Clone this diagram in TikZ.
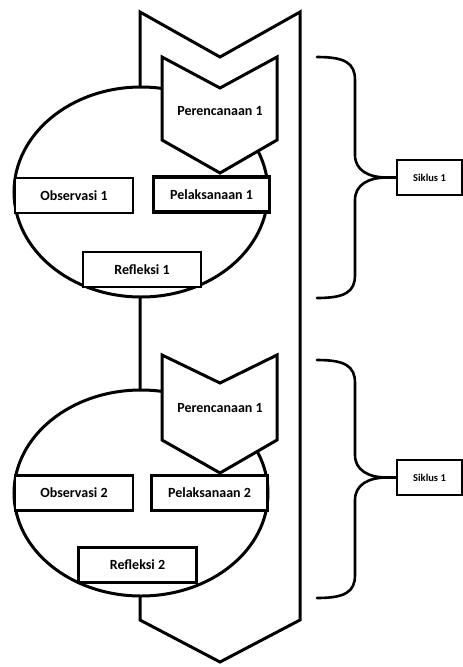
\documentclass[tikz,border=0pt]{standalone}
\usepackage{fontspec}
\setmainfont{Carlito}
\begin{document}
\begin{tikzpicture}[x=1pt,y=-1pt,
  outline/.style={draw=black,line width=3pt,fill=white,line join=miter},
  lbl/.style={font=\fontsize{14}{16}\selectfont\bfseries,inner sep=0pt},
  stagebox/.style={draw=black,line width=2.6pt,fill=white,minimum width=118pt,minimum height=35pt,inner sep=0pt,font=\fontsize{14}{16}\selectfont\bfseries},
  thickbox/.style={stagebox,line width=3.6pt,minimum width=116pt},
  siklusbox/.style={draw=black,line width=2.5pt,fill=white,minimum width=65pt,minimum height=35pt,inner sep=0pt,font=\fontsize{10.5}{12}\selectfont\bfseries},
  bracepath/.style={draw=black,line width=2.6pt,line cap=round}]
\useasboundingbox (0,0) rectangle (463,667);
% big chevron
\draw[outline] (140,12) -- (220,57) -- (300,12) -- (300,620) -- (220,662) -- (140,620) -- cycle;
% ellipses
\draw[outline] (141,192) ellipse [x radius=127, y radius=105];
\draw[outline] (141,493) ellipse [x radius=127, y radius=103];
% small chevrons
\draw[outline] (162,57) -- (220,88) -- (277,57) -- (277,140) -- (220,173) -- (162,140) -- cycle;
\node[lbl] (p1) at (220,111) {Perencanaan 1};
\draw[outline] (162,355) -- (220,383) -- (277,355) -- (277,440) -- (220,473) -- (162,440) -- cycle;
\node[lbl] (p2) at (220,408) {Perencanaan 1};
% boxes cycle 1
\node[stagebox] (o1) at (74,195.5) {Observasi 1};
\node[thickbox] (l1) at (211.5,194.5) {Pelaksanaan 1};
\node[stagebox] (r1) at (142,269.5) {Refleksi 1};
% boxes cycle 2
\node[stagebox] (o2) at (74,493) {Observasi 2};
\node[thickbox] (l2) at (209.5,493) {Pelaksanaan 2};
\node[stagebox] (r2) at (137.5,565) {Refleksi 2};
% siklus boxes
\node[siklusbox] (s1) at (429.5,177.5) {Siklus 1};
\node[siklusbox] (s2) at (429.5,477.5) {Siklus 1};
% braces
\coordinate (t1) at (387,177.5);
\draw[bracepath] (317,57) .. controls (345,57) and (355,63) .. (355,80) -- (355,155)
  .. controls (355,170) and (368,177.5) .. (t1)
  .. controls (368,177.5) and (355,185) .. (355,200) -- (355,275)
  .. controls (355,292) and (345,298) .. (317,298);
\draw[bracepath] (t1) -- (s1.west);
\coordinate (t2) at (387,477.5);
\draw[bracepath] (317,360) .. controls (345,360) and (355,366) .. (355,383) -- (355,455)
  .. controls (355,470) and (368,477.5) .. (t2)
  .. controls (368,477.5) and (355,485) .. (355,500) -- (355,575)
  .. controls (355,592) and (345,598) .. (317,598);
\draw[bracepath] (t2) -- (s2.west);
\end{tikzpicture}
\end{document}
